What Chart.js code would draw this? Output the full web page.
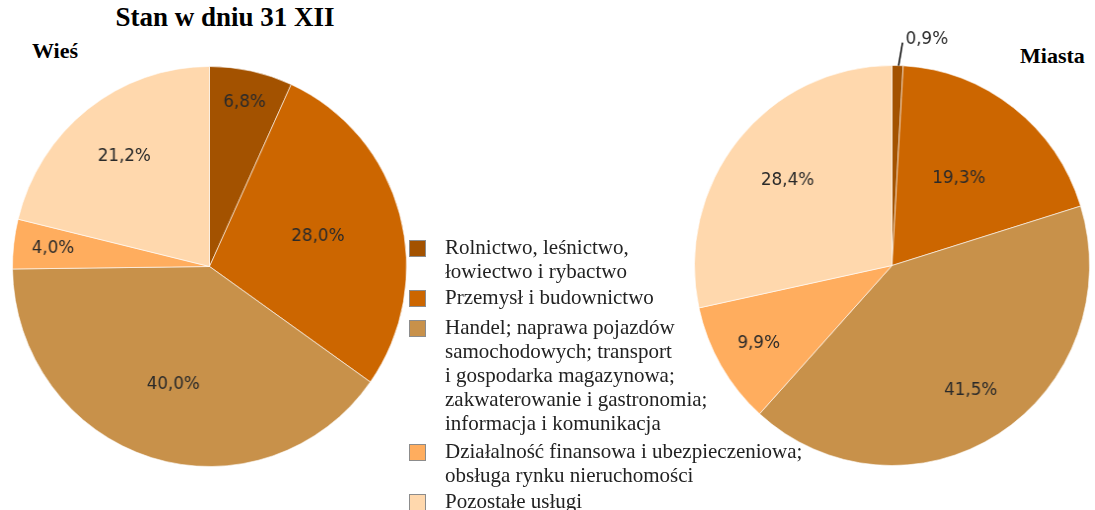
<!DOCTYPE html>
<html>
<head>
<meta charset="utf-8">
<script src="https://cdn.jsdelivr.net/npm/chart.js@4.4.1/dist/chart.umd.min.js"></script>
<style>
  body { margin: 0; width: 1095px; height: 510px; background: #fff; position: relative; overflow: hidden; font-family: "Liberation Serif", "Times New Roman", serif; }
  canvas { position: absolute; }
  #title { position: absolute; left: 0; width: 450px; top: 2px; text-align: center; font-weight: bold; font-size: 27px; }
  .sub { position: absolute; font-weight: bold; font-size: 22px; }
  #legend { position: absolute; left: 409px; top: 235px; font-size: 21px; color: #222; }
  .item { position: relative; padding-left: 36px; line-height: 24px; }
  .box { position: absolute; left: 0; width: 15px; height: 15px; border: 1px solid #8c8c8c; }
</style>
</head>
<body>
<div id="title">Stan w dniu 31 XII</div>
<div class="sub" style="left:32px; top:38px;">Wieś</div>
<div class="sub" style="left:1020px; top:43px;">Miasta</div>
<canvas id="wies" width="401" height="401" style="left:12px; top:66px; width:395px; height:401px;"></canvas>
<canvas id="miasta" width="401" height="448" style="left:694px; top:18px; width:396px; height:448px;"></canvas>
<div id="legend"></div>

<script>
const categories = [
  ['Rolnictwo, leśnictwo,', 'łowiectwo i rybactwo'],
  ['Przemysł i budownictwo'],
  ['Handel; naprawa pojazdów', 'samochodowych; transport', 'i gospodarka magazynowa;', 'zakwaterowanie i gastronomia;', 'informacja i komunikacja'],
  ['Działalność finansowa i ubezpieczeniowa;', 'obsługa rynku nieruchomości'],
  ['Pozostałe usługi']
];
const wiesValues = [6.8, 28.0, 40.0, 4.0, 21.2];
const miastaValues = [0.9, 19.3, 41.5, 9.9, 28.4];
const colors = ['#a35200', '#cc6600', '#c8914a', '#ffad5e', '#ffd8ad'];

const fmt = v => v.toFixed(1).replace('.', ',') + '%';

// legend built by hand on the page between the two pies
const legend = document.getElementById('legend');
const gaps = [0, 2, 6, 4, 2];
categories.forEach((lines, i) => {
  const div = document.createElement('div');
  div.className = 'item';
  div.style.marginTop = gaps[i] + 'px';
  div.innerHTML = '<span class="box" style="top:5px;background:' + colors[i] + '"></span>' + lines.join('<br>');
  legend.appendChild(div);
});

// percentage labels placed along each slice's middle angle
const sliceLabels = {
  id: 'sliceLabels',
  afterDatasetsDraw(chart, args, opts) {
    const ctx = chart.ctx;
    const values = chart.data.datasets[0].data;
    ctx.save();
    ctx.font = '17px "DejaVu Sans", Verdana, sans-serif';
    ctx.fillStyle = '#2a2a2a';
    ctx.textAlign = 'center';
    ctx.textBaseline = 'middle';
    chart.getDatasetMeta(0).data.forEach((arc, i) => {
      const { x, y, startAngle, endAngle, outerRadius } = arc.getProps(['x', 'y', 'startAngle', 'endAngle', 'outerRadius'], true);
      const mid = (startAngle + endAngle) / 2;
      const f = opts.radius[i];
      if (f > 1) {
        // small slice: label outside with a leader line
        const ex = x + Math.cos(mid) * outerRadius, ey = y + Math.sin(mid) * outerRadius;
        ctx.strokeStyle = '#000';
        ctx.lineWidth = 1.5;
        ctx.beginPath();
        ctx.moveTo(ex + 1, ey);
        ctx.lineTo(ex + 5, ey - 23);
        ctx.stroke();
        ctx.textAlign = 'left';
        ctx.fillText(fmt(values[i]), ex + 8, ey - 26);
        ctx.textAlign = 'center';
      } else {
        ctx.fillText(fmt(values[i]), x + Math.cos(mid) * outerRadius * f, y + Math.sin(mid) * outerRadius * f);
      }
    });
    ctx.restore();
  }
};

function makePie(id, values, radius, padTop) {
  return new Chart(document.getElementById(id), {
    type: 'pie',
    data: {
      labels: categories.map(l => l.join(' ')),
      datasets: [{
        data: values,
        backgroundColor: colors,
        borderColor: 'rgba(255,255,255,0.6)',
        borderWidth: 1
      }]
    },
    options: {
      responsive: false,
      animation: false,
      devicePixelRatio: 1,
      layout: { padding: { top: padTop } },
      plugins: {
        legend: { display: false },
        tooltip: { enabled: false },
        sliceLabels: { radius }
      }
    },
    plugins: [sliceLabels]
  });
}

makePie('wies', wiesValues, [0.84, 0.57, 0.62, 0.8, 0.7], 0);
makePie('miasta', miastaValues, [1.2, 0.55, 0.74, 0.78, 0.68], 47);
</script>
</body>
</html>
